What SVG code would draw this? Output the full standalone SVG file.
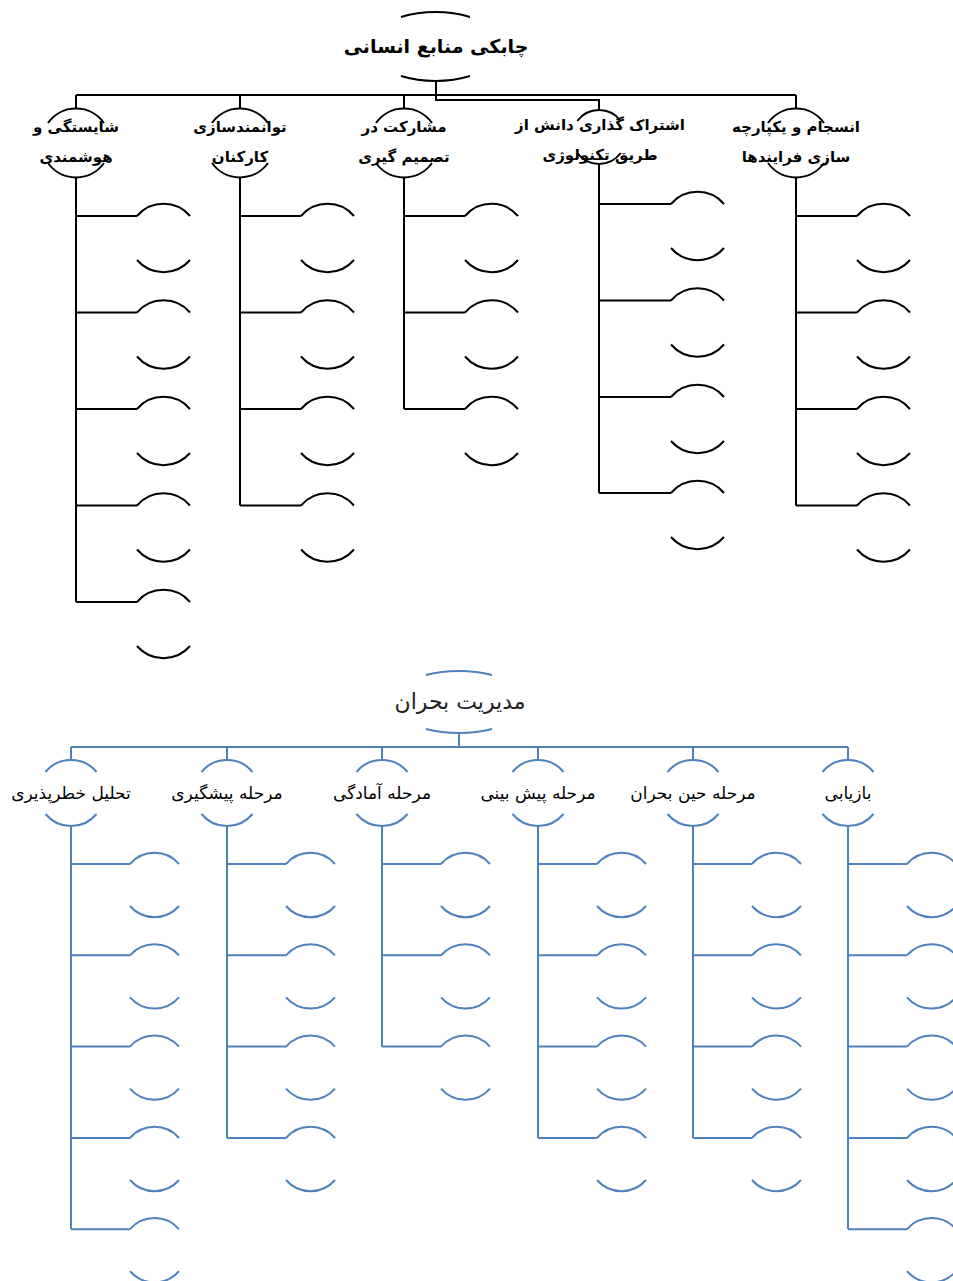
<svg xmlns="http://www.w3.org/2000/svg" xmlns:xlink="http://www.w3.org/1999/xlink" width="953" height="1281" viewBox="0 0 953 1281">
<style>
.k{fill:none;stroke:#000;stroke-width:2}
.b{fill:none;stroke:#4F81BD;stroke-width:2}
.tt{font-family:"DejaVu Sans",sans-serif;font-weight:bold;font-size:19px;fill:#000;text-anchor:middle}
.tl{font-family:"DejaVu Sans",sans-serif;font-weight:bold;font-size:15px;fill:#000;text-anchor:middle}
.bt{font-family:"DejaVu Sans",sans-serif;font-size:22px;fill:#222;text-anchor:middle}
.bl{font-family:"DejaVu Sans",sans-serif;font-size:17px;fill:#000;text-anchor:middle}
</style>
<defs>
<path id="nt" d="M-28,-20 A34.4,34.4 0 0 1 28,-20 M-28,20 A34.4,34.4 0 0 0 28,20"/>
<path id="nb" d="M-25.5,-21 A33,33 0 0 1 25.5,-21 M-25.5,21 A33,33 0 0 0 25.5,21"/>
<path id="ct" d="M0,0 A35,35 0 0 1 53,0 M0,44 A35,35 0 0 0 53,44"/>
<path id="cb" d="M0,0 A32.5,32.5 0 0 1 49,0 M0,42 A32.5,32.5 0 0 0 49,42"/>
</defs>

<g id="connectors-top" class="k">
<path d="M436,81 V100 H599 V110"/>
<path d="M76,95 H796"/>
<path d="M76,95 V108 M240,95 V108 M404,95 V108 M796,95 V108"/>
<path d="M76,178 V602 M76,216 H137 M76,312.5 H137 M76,409 H137 M76,505.5 H137 M76,602 H137"/>
<path d="M240,178 V505.5 M240,216 H301 M240,312.5 H301 M240,409 H301 M240,505.5 H301"/>
<path d="M404,178 V409 M404,216 H465 M404,312.5 H465 M404,409 H465"/>
<path d="M599,164 V493 M599,204 H671 M599,300.5 H671 M599,397 H671 M599,493 H671"/>
<path d="M796,178 V505.5 M796,216 H857 M796,312.5 H857 M796,409 H857 M796,505.5 H857"/>
</g>

<g id="connectors-bottom" class="b">
<path d="M459,733 V747 M71,747 H848"/>
<path d="M71,747 V760 M227,747 V760 M382,747 V760 M538,747 V760 M693,747 V760 M848,747 V760"/>
<path d="M71,826 V1229 M71,864 H130 M71,955.3 H130 M71,1046.6 H130 M71,1138 H130 M71,1229.2 H130"/>
<path d="M227,826 V1138 M227,864 H286 M227,955.3 H286 M227,1046.6 H286 M227,1138 H286"/>
<path d="M382,826 V1046.6 M382,864 H441 M382,955.3 H441 M382,1046.6 H441"/>
<path d="M538,826 V1138 M538,864 H597 M538,955.3 H597 M538,1046.6 H597 M538,1138 H597"/>
<path d="M693,826 V1138 M693,864 H752 M693,955.3 H752 M693,1046.6 H752 M693,1138 H752"/>
<path d="M848,826 V1229 M848,864 H907 M848,955.3 H907 M848,1046.6 H907 M848,1138 H907 M848,1229.2 H907"/>
</g>

<g id="title-top">
<path class="k" d="M401,17 A67,34.5 0 0 1 470,17 M401,76 A67,34.5 0 0 0 470,76"/>
<text class="tt" x="436" y="53">چابکی منابع انسانی</text>
</g>
<g id="n-t1"><use href="#nt" x="76" y="143" class="k"/><text class="tl" x="76" y="132">شایستگی و</text><text class="tl" x="76" y="162">هوشمندی</text></g>
<g id="n-t2"><use href="#nt" x="240" y="143" class="k"/><text class="tl" x="240" y="132">توانمندسازی</text><text class="tl" x="240" y="162">کارکنان</text></g>
<g id="n-t3"><use href="#nt" x="404" y="143" class="k"/><text class="tl" x="404" y="132">مشارکت در</text><text class="tl" x="404" y="162">تصمیم گیری</text></g>
<g id="n-t4"><path class="k" d="M577.3,121 A27,27 0 0 1 620.7,121 M577.3,153 A27,27 0 0 0 620.7,153"/><text class="tl" x="600" y="130">اشتراک گذاری دانش از</text><text class="tl" x="600" y="160">طریق تکنولوژی</text></g>
<g id="n-t5"><use href="#nt" x="796" y="143" class="k"/><text class="tl" x="796" y="132">انسجام و یکپارچه</text><text class="tl" x="796" y="162">سازی فرایندها</text></g>

<g id="children-top" class="k">
<use id="c11" href="#ct" x="137" y="216"/><use id="c12" href="#ct" x="137" y="312.5"/><use id="c13" href="#ct" x="137" y="409"/><use id="c14" href="#ct" x="137" y="505.5"/><use id="c15" href="#ct" x="137" y="602"/>
<use id="c21" href="#ct" x="301" y="216"/><use id="c22" href="#ct" x="301" y="312.5"/><use id="c23" href="#ct" x="301" y="409"/><use id="c24" href="#ct" x="301" y="505.5"/>
<use id="c31" href="#ct" x="465" y="216"/><use id="c32" href="#ct" x="465" y="312.5"/><use id="c33" href="#ct" x="465" y="409"/>
<use id="c41" href="#ct" x="671" y="204"/><use id="c42" href="#ct" x="671" y="300.5"/><use id="c43" href="#ct" x="671" y="397"/><use id="c44" href="#ct" x="671" y="493"/>
<use id="c51" href="#ct" x="857" y="216"/><use id="c52" href="#ct" x="857" y="312.5"/><use id="c53" href="#ct" x="857" y="409"/><use id="c54" href="#ct" x="857" y="505.5"/>
</g>

<g id="title-bottom">
<path class="b" d="M426,675 A67,31 0 0 1 492,675 M426,729 A67,31 0 0 0 492,729"/>
<text class="bt" x="460" y="709">مدیریت بحران</text>
</g>
<g id="n-b1"><use href="#nb" x="71" y="793" class="b"/><text class="bl" x="71" y="799">تحلیل خطرپذیری</text></g>
<g id="n-b2"><use href="#nb" x="227" y="793" class="b"/><text class="bl" x="227" y="799">مرحله پیشگیری</text></g>
<g id="n-b3"><use href="#nb" x="382" y="793" class="b"/><text class="bl" x="382" y="799">مرحله آمادگی</text></g>
<g id="n-b4"><use href="#nb" x="538" y="793" class="b"/><text class="bl" x="538" y="799">مرحله پیش بینی</text></g>
<g id="n-b5"><use href="#nb" x="693" y="793" class="b"/><text class="bl" x="693" y="799">مرحله حین بحران</text></g>
<g id="n-b6"><use href="#nb" x="848" y="793" class="b"/><text class="bl" x="848" y="799">بازیابی</text></g>

<g id="children-bottom" class="b">
<use href="#cb" x="130" y="864"/><use href="#cb" x="130" y="955.3"/><use href="#cb" x="130" y="1046.6"/><use href="#cb" x="130" y="1138"/><use href="#cb" x="130" y="1229.2"/>
<use href="#cb" x="286" y="864"/><use href="#cb" x="286" y="955.3"/><use href="#cb" x="286" y="1046.6"/><use href="#cb" x="286" y="1138"/>
<use href="#cb" x="441" y="864"/><use href="#cb" x="441" y="955.3"/><use href="#cb" x="441" y="1046.6"/>
<use href="#cb" x="597" y="864"/><use href="#cb" x="597" y="955.3"/><use href="#cb" x="597" y="1046.6"/><use href="#cb" x="597" y="1138"/>
<use href="#cb" x="752" y="864"/><use href="#cb" x="752" y="955.3"/><use href="#cb" x="752" y="1046.6"/><use href="#cb" x="752" y="1138"/>
<use href="#cb" x="907" y="864"/><use href="#cb" x="907" y="955.3"/><use href="#cb" x="907" y="1046.6"/><use href="#cb" x="907" y="1138"/><use href="#cb" x="907" y="1229.2"/>
</g>
</svg>
